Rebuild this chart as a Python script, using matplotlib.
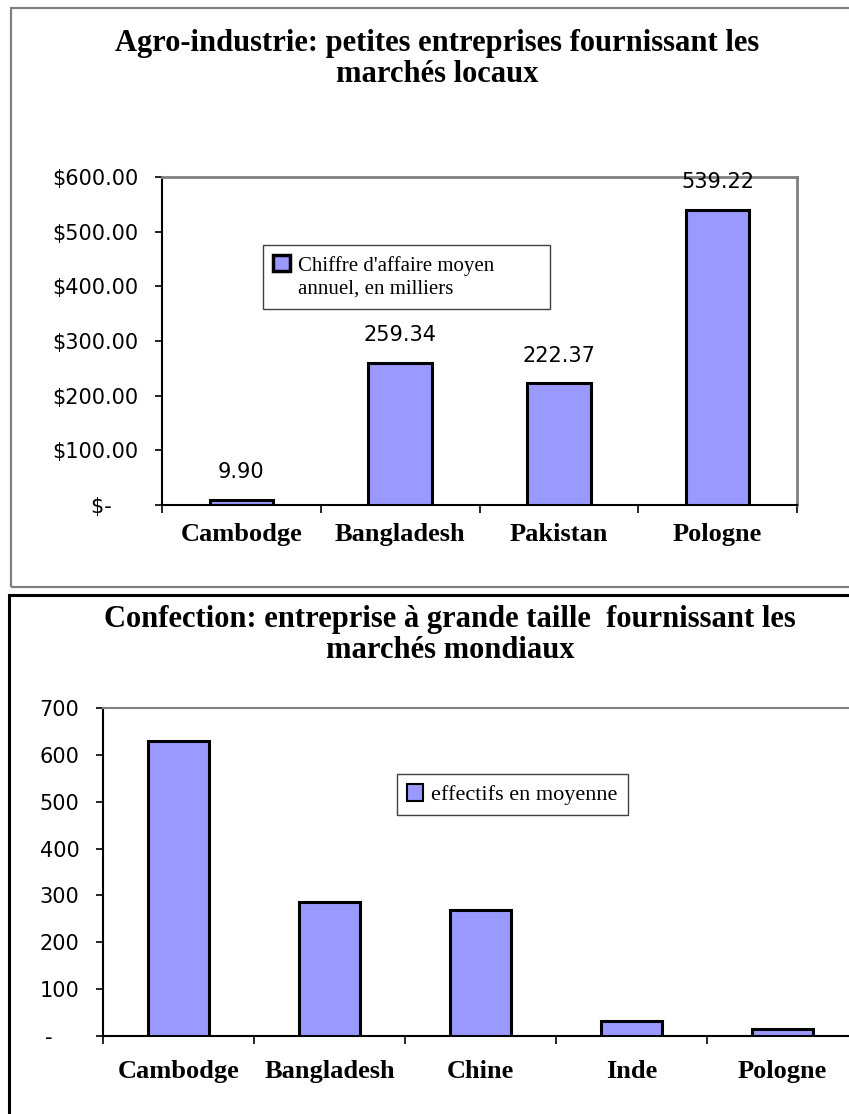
import matplotlib
matplotlib.use('Agg')
import matplotlib.pyplot as plt
from matplotlib.patches import Rectangle, Patch

# data
agro_countries = ['Cambodge', 'Bangladesh', 'Pakistan', 'Pologne']
agro_turnover = [9.90, 259.34, 222.37, 539.22]
agro_ticks = [0, 100, 200, 300, 400, 500, 600]

conf_countries = ['Cambodge', 'Bangladesh', 'Chine', 'Inde', 'Pologne']
conf_staff = [630, 287, 268, 31, 16]
conf_ticks = [0, 100, 200, 300, 400, 500, 600, 700]

W, H = 849, 1114
serif = ['Liberation Serif', 'DejaVu Serif']
sans = ['DejaVu Sans']
bar_fc = '#9999ff'
grey = '#808080'


def box(x0, y0, x1, y1):
    # pixel box (from top-left) -> figure fraction rect
    return [x0 / W, 1 - y1 / H, (x1 - x0) / W, (y1 - y0) / H]


def style_axes(ax, n, ticks, labels, xpad=13):
    ax.set_xlim(-0.5, n - 0.5)
    ax.set_ylim(ticks[0], ticks[-1])
    ax.set_yticks(ticks)
    ax.set_yticklabels(labels, family=sans, fontsize=15)
    ax.tick_params(axis='y', direction='out', length=5, width=1.2, pad=12)
    ax.set_xticks(range(n))
    ax.tick_params(axis='x', which='major', length=0, pad=xpad)
    ax.set_xticks([i - 0.5 for i in range(n + 1)], minor=True)
    ax.tick_params(axis='x', which='minor', direction='out', length=6, width=1.2)
    for s in ('left', 'bottom'):
        ax.spines[s].set_color('black')
        ax.spines[s].set_linewidth(1.5)
    for s in ('top', 'right'):
        ax.spines[s].set_color(grey)
        ax.spines[s].set_linewidth(2)
    ax.set_facecolor('white')


fig = plt.figure(figsize=(W / 100, H / 100), dpi=100)

# panel frames
fig.patches.append(Rectangle((11 / W, 1 - 587 / H), 900 / W, 579 / H, transform=fig.transFigure,
                             fill=False, edgecolor=grey, linewidth=1.6))
fig.patches.append(Rectangle((9 / W, -0.05), 900 / W, (1114 - 595) / H + 0.05, transform=fig.transFigure,
                             fill=False, edgecolor='black', linewidth=2.2))

# --- Agro-industrie ---
ax1 = fig.add_axes(box(162, 177, 797, 505))
bars1 = ax1.bar(range(len(agro_countries)), agro_turnover, width=0.4, color=bar_fc,
                edgecolor='black', linewidth=2.2, zorder=3)
style_axes(ax1, len(agro_countries), agro_ticks,
           ['$-    '] + ['${:.2f}'.format(t) for t in agro_ticks[1:]])
ax1.set_xticklabels(agro_countries, family=serif, fontsize=19, fontweight='bold')
for i, v in enumerate(agro_turnover):
    ax1.annotate('{:.2f}'.format(v), (i, v), xytext=(0, 20), textcoords='offset points',
                 ha='center', va='center', family=sans, fontsize=15, annotation_clip=False)
leg_w = (550 - 263) / 635
ax1.legend([Patch(facecolor=bar_fc, edgecolor='black', linewidth=2.5),
            Patch(visible=False)],
           ["Chiffre d'affaire moyen", 'annuel, en milliers'],
           loc='upper left', mode='expand',
           bbox_to_anchor=((263 - 162) / 635, 1 - (245 - 177) / 328, leg_w, 0),
           prop={'family': serif, 'size': 15}, frameon=True, fancybox=False,
           edgecolor='#404040', framealpha=1, handlelength=0.8, handleheight=0.8,
           handletextpad=0.4, labelspacing=0.15, borderpad=0.5, borderaxespad=0)
fig.text(437 / W, 1 - 59 / H, 'Agro-industrie: petites entreprises fournissant les\nmarchés locaux',
         ha='center', va='center', family=serif, fontsize=22, fontweight='bold', linespacing=1.05)

# --- Confection ---
ax2 = fig.add_axes(box(103, 708, 858, 1036))
ax2.bar(range(len(conf_countries)), conf_staff, width=0.4, color=bar_fc,
        edgecolor='black', linewidth=2.2, zorder=3)
style_axes(ax2, len(conf_countries), conf_ticks,
           ['-    '] + [str(t) for t in conf_ticks[1:]], xpad=17)
ax2.spines['top'].set_linewidth(1.5)
ax2.set_xticklabels(conf_countries, family=serif, fontsize=19, fontweight='bold')
ax2.legend([Patch(facecolor=bar_fc, edgecolor='black', linewidth=1.5)],
           ['effectifs en moyenne'],
           loc='upper left', bbox_to_anchor=((397 - 103) / 755, 1 - (774 - 708) / 328),
           prop={'family': serif, 'size': 16}, frameon=True, fancybox=False,
           edgecolor='#404040', framealpha=1, handlelength=0.7, handleheight=0.8,
           handletextpad=0.4, borderpad=0.45, borderaxespad=0)
fig.text(450 / W, 1 - 635 / H, 'Confection: entreprise à grande taille  fournissant les\nmarchés mondiaux',
         ha='center', va='center', family=serif, fontsize=22, fontweight='bold', linespacing=1.05)

fig.savefig('out.png', dpi=100, facecolor='white')
